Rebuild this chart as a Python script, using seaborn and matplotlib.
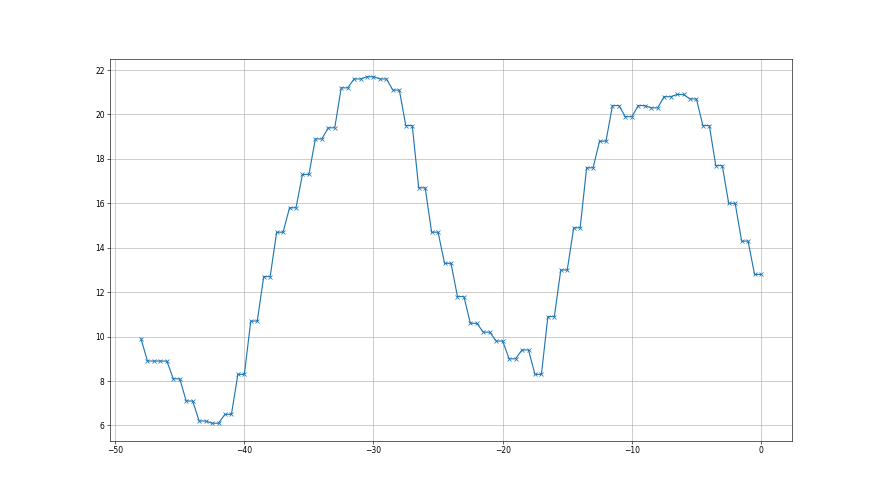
import matplotlib
matplotlib.use('Agg')
import matplotlib.pyplot as plt
import numpy as np
import pandas as pd
import seaborn as sns

# Hourly values, hour -48 .. 0
hours = list(range(-48, 1))
values = [9.9, 8.9, 8.9, 8.1, 7.1, 6.2, 6.1, 6.5, 8.3, 10.7,
          12.7, 14.7, 15.8, 17.3, 18.9, 19.4, 21.2, 21.6, 21.7, 21.6,
          21.1, 19.5, 16.7, 14.7, 13.3, 11.8, 10.6, 10.2, 9.8, 9.0,
          9.4, 8.3, 10.9, 13.0, 14.9, 17.6, 18.8, 20.4, 19.9, 20.4,
          20.3, 20.8, 20.9, 20.7, 19.5, 17.7, 16.0, 14.3, 12.8]

# Each hour after the first is sampled twice (half-hour steps)
xs = [hours[0]]
ys = [values[0]]
for h, v in zip(hours[1:], values[1:]):
    xs += [h - 0.5, h]
    ys += [v, v]

df = pd.DataFrame({'t': xs, 'val': ys})

fig, ax = plt.subplots(figsize=(16, 9), dpi=55)
sns.lineplot(x='t', y='val', data=df, ax=ax, marker='x', color='C0',
             markeredgecolor='C0', markeredgewidth=1, markersize=6, linewidth=1.5)
ax.grid(True)
ax.set_xlabel('')
ax.set_ylabel('')
ax.set_yticks(np.arange(6, 23, 2))
fig.savefig('out.png')
